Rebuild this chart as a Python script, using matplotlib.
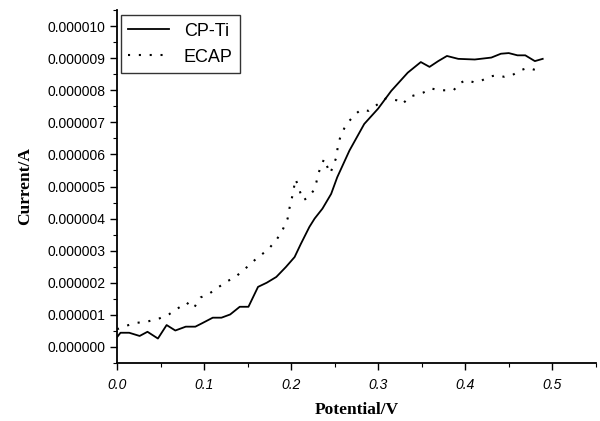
import matplotlib
matplotlib.use('Agg')
import matplotlib.pyplot as plt
import numpy as np
from matplotlib.ticker import MultipleLocator, FormatStrFormatter

plt.rcParams.update({'font.family': 'Liberation Sans', 'font.size': 10})

# potential (V) and current (uA)
cpti_v = [0.000, 0.004, 0.014, 0.026, 0.035, 0.047, 0.057, 0.067, 0.079, 0.090,
          0.098, 0.110, 0.120, 0.130, 0.141, 0.151, 0.162, 0.172, 0.183, 0.194,
          0.204, 0.211, 0.221, 0.227, 0.236, 0.246, 0.253, 0.267, 0.284, 0.300,
          0.315, 0.334, 0.349, 0.359, 0.369, 0.379, 0.392, 0.411, 0.430, 0.441,
          0.450, 0.460, 0.469, 0.480, 0.489]
cpti_i = [0.30, 0.44, 0.44, 0.34, 0.47, 0.26, 0.68, 0.51, 0.63, 0.63,
          0.74, 0.91, 0.91, 1.01, 1.25, 1.25, 1.87, 2.00, 2.18, 2.49,
          2.80, 3.20, 3.74, 4.00, 4.31, 4.77, 5.29, 6.12, 6.95, 7.43,
          7.98, 8.55, 8.88, 8.73, 8.91, 9.07, 8.98, 8.96, 9.02, 9.14,
          9.16, 9.09, 9.09, 8.91, 8.98]

ecap_v = [0.000, 0.010, 0.020, 0.035, 0.049, 0.060, 0.071, 0.080, 0.088, 0.096,
          0.106, 0.117, 0.127, 0.136, 0.143, 0.152, 0.160, 0.170, 0.176, 0.184,
          0.190, 0.196, 0.198, 0.202, 0.205, 0.208, 0.211, 0.214, 0.220, 0.226,
          0.229, 0.231, 0.234, 0.238, 0.241, 0.245, 0.252, 0.254, 0.257, 0.261,
          0.267, 0.274, 0.280, 0.289, 0.309, 0.321, 0.328, 0.336, 0.344, 0.352,
          0.361, 0.369, 0.378, 0.387, 0.393, 0.401, 0.410, 0.418, 0.427, 0.436,
          0.445, 0.454, 0.463, 0.472, 0.481, 0.489]
ecap_i = [0.55, 0.65, 0.74, 0.79, 0.89, 1.02, 1.22, 1.38, 1.20, 1.54,
          1.66, 1.87, 2.05, 2.18, 2.34, 2.55, 2.75, 2.96, 3.11, 3.37,
          3.63, 4.00, 4.31, 4.77, 5.23, 5.03, 4.77, 4.57, 4.67, 4.88,
          5.13, 5.37, 5.62, 5.86, 5.65, 5.41, 5.91, 6.32, 6.58, 6.81,
          7.05, 7.26, 7.39, 7.36, 7.75, 7.69, 7.57, 7.80, 7.86, 7.93,
          8.06, 8.00, 8.00, 8.01, 8.21, 8.32, 8.25, 8.29, 8.42, 8.47,
          8.42, 8.47, 8.62, 8.70, 8.63, 8.70]

fig = plt.figure(figsize=(6.0, 4.21), dpi=100)
ax = fig.add_axes([0.195, 0.138, 0.798, 0.838])

ax.plot(cpti_v, np.array(cpti_i) * 1e-6, color='black', lw=1.3, label='CP-Ti')
ax.plot(ecap_v, np.array(ecap_i) * 1e-6, color='black', lw=1.5,
        linestyle=(0, (1, 4.2)), label='ECAP')

ax.set_xlim(0, 0.55)
ax.set_ylim(-0.5e-6, 10.5e-6)
ax.spines['top'].set_visible(False)
ax.spines['right'].set_visible(False)
ax.spines['left'].set_linewidth(1.3)
ax.spines['bottom'].set_linewidth(1.3)

ax.xaxis.set_major_locator(MultipleLocator(0.1))
ax.xaxis.set_minor_locator(MultipleLocator(0.05))
ax.xaxis.set_major_formatter(FormatStrFormatter('%.1f'))
ax.yaxis.set_major_locator(MultipleLocator(1e-6))
ax.yaxis.set_minor_locator(MultipleLocator(0.5e-6))
ax.yaxis.set_major_formatter(FormatStrFormatter('%.6f'))
ax.tick_params(which='major', length=5, width=1)
ax.tick_params(which='minor', length=3, width=0.8)
ax.tick_params(axis='x', labelsize=10, pad=6)
ax.tick_params(axis='y', labelsize=10)
for t in ax.get_xticklabels():
    t.set_fontstyle('italic')

ax.set_xlabel('Potential/V', family='Liberation Serif', fontweight='bold',
              fontsize=12.5, labelpad=7)
ax.set_ylabel('Current/A', family='Liberation Serif', fontweight='bold',
              fontsize=12.5, labelpad=10)

leg = ax.legend(loc='upper left', fontsize=13, frameon=True, fancybox=False,
                edgecolor='black', handlelength=2.3, borderaxespad=0.2,
                bbox_to_anchor=(0.0, 0.995))
leg.get_frame().set_linewidth(1.0)

fig.savefig('out.png', dpi=100)
